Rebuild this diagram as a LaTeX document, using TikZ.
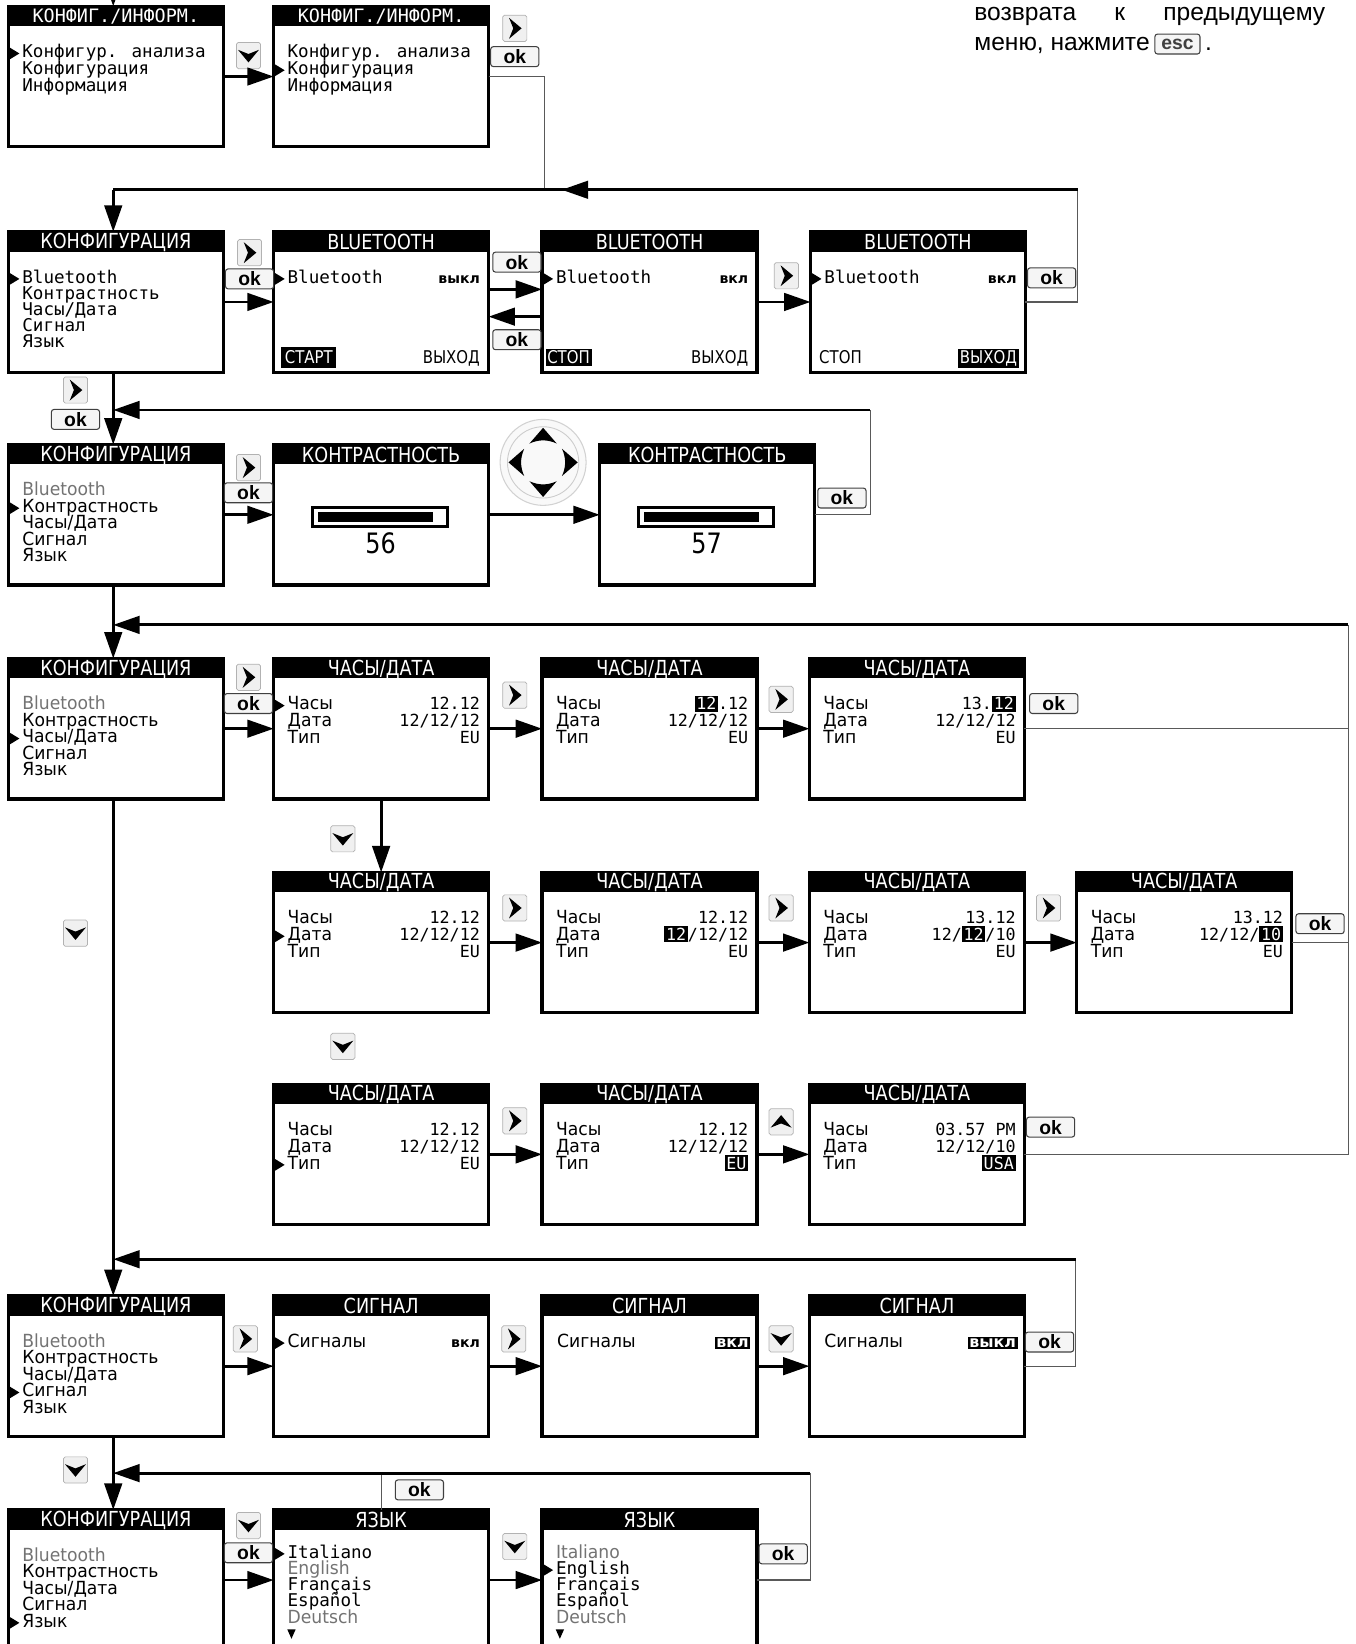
\documentclass[tikz,border=0pt]{standalone}
\usepackage{fontspec}
\setmainfont{DejaVu Sans}
\newfontfamily\monof{DejaVu Sans Mono}
\newfontfamily\condf[FakeStretch=0.85]{DejaVu Sans}
\newfontfamily\lblf[FakeStretch=0.95]{DejaVu Sans}
\newfontfamily\notef{Liberation Sans}
\usepackage{tikz}
\usetikzlibrary{positioning,calc,arrows.meta,decorations.markings}

\newcommand{\pxl}{0.020974cm}
\newcommand{\ttlfont}{\condf\fontsize{11.8}{12}\selectfont}
\newcommand{\lblfont}{\lblf\fontsize{10.3}{12}\selectfont}
\newcommand{\monofont}{\monof\fontsize{10}{12}\selectfont}
\newcommand{\valfont}{\monof\fontsize{9.5}{12}\selectfont}
\newcommand{\tinyfont}{\bfseries\fontsize{8}{10}\selectfont}
\newcommand{\btmfont}{\condf\fontsize{10}{11}\selectfont}

% white on black value
\newcommand{\hl}[1]{{\fboxsep=1pt\colorbox{black}{\color{white}#1}}}
\newcommand{\hlw}[1]{{\fboxsep=2pt\colorbox{black}{\color{white}#1}}}

% screen: name, x, y (top left), title
\newcommand{\screen}[4]{%
  \node[scr] (#1) at (#2,#3) {};
  \fill (#1.north west) rectangle ($(#1.north east)+(0,19)$);
  \node[ttl] (#1-t) at ($(#1.north)+(0,10)$) {#4};
}
% selection marker at baseline
\newcommand{\mk}[1]{\fill (1.5,{#1-9.5}) -- (10.5,{#1-4}) -- (1.5,{#1+1.5}) -- cycle;}
% menu of the configuration screen
\newcommand{\cfgmenu}[1]{%
  \foreach \t [count=\i from 0] in {{\color{black!55}Bluetooth},Контрастность,Часы/Дата,Сигнал,Язык}
    \node[lbl] at (13,{49+15.7*\i}) {\t};
  \mk{49+15.7*#1}
}
% clock/date screen
\newcommand{\clock}[4]{%
  \node[lbl] at (13,49) {Часы}; \node[val] at (197,49) {#2};
  \node[lbl] at (13,65) {Дата}; \node[val] at (197,65) {#3};
  \node[lbl] at (13,81) {Тип};  \node[val] at (197,81) {#4};
  \ifnum#1>0 \mk{49+16*(#1-1)}\fi
}
% contrast bar
\newcommand{\contrast}[1]{%
  \draw[line width=1.5pt] (37,60) rectangle (166,78);
  \fill (42,64) rectangle (152,74);
  \node[inner sep=0pt, font=\condf\fontsize{16}{16}\selectfont] at (102,94) {#1};
}
% keys
\newcommand{\keyR}[3]{\node[keybox] (#1) at (#2,#3) {};
  \fill[shift={(#1.center)}] (-5.5,-10) -- (6.5,0) -- (-5.5,10) -- (-1.5,0) -- cycle;}
\newcommand{\keyD}[3]{\node[keybox] (#1) at (#2,#3) {};
  \fill[shift={(#1.center)}] (-10,-5.5) -- (0,6.5) -- (10,-5.5) -- (0,-1.5) -- cycle;}
\newcommand{\keyU}[3]{\node[keybox] (#1) at (#2,#3) {};
  \fill[shift={(#1.center)}] (-10,5.5) -- (0,-6.5) -- (10,5.5) -- (0,1.5) -- cycle;}

\begin{document}
\begin{tikzpicture}[
    x=0.020974cm, y=-0.020974cm,
    scr/.style={draw, line width=1.8pt, anchor=north west, inner sep=0pt, outer sep=0pt,
        minimum width=205*\pxl, minimum height=134*\pxl},
    ttl/.style={text=white, inner sep=0pt, font=\ttlfont},
    lbl/.style={anchor=base west, inner sep=0pt},
    val/.style={anchor=base east, inner sep=0pt, font=\valfont},
    arr/.style={line width=1.6pt, -{Triangle[length=15pt,width=10pt]}},
    ret/.style={line width=0.7pt, draw=black!65},
    midarr/.style={postaction={decorate}, decoration={markings,
        mark=at position #1 with {\arrow{Triangle[length=15pt,width=10pt]}}}},
    keybox/.style={draw=gray!60, line width=0.4pt, fill=gray!12, rounded corners=1pt,
        minimum width=23*\pxl, minimum height=25*\pxl, inner sep=0pt},
    okbtn/.style={draw=black!75, line width=0.6pt, fill=gray!8, rounded corners=1.5pt,
        minimum width=46*\pxl, minimum height=19*\pxl, inner sep=0pt,
        font=\notef\bfseries\fontsize{11}{11}\selectfont},
    escbtn/.style={okbtn, minimum width=43*\pxl, text=black!75},
    note/.style={inner sep=0pt, font=\notef\fontsize{14}{16}\selectfont}
]
\useasboundingbox (0,0) rectangle (1293,1568);
\clip (0,0) rectangle (1293,1568);

% note
\node[note, anchor=base west] (note1) at (929,20) {\makebox[199.8pt][l]{возврата\hfill к\hfill предыдущему}};
\node[note, anchor=base west] (note2) at (929,48) {меню, нажмите};
\node[escbtn] (esc) at (1123,42) {esc};
\node[note, anchor=base west] (note3) at (1149,48) {.};

% return points
\coordinate (top) at (108,-5);
\coordinate (a2c) at (519,181);
\coordinate (r1) at (1028,181);  \coordinate (j1) at (108,181);
\coordinate (r2) at (830,391);   \coordinate (j2) at (108,391);
\coordinate (r3) at (1286,596);  \coordinate (j3) at (108,596);
\coordinate (r4) at (1026,1201); \coordinate (j4) at (108,1201);
\coordinate (r5) at (773,1405);  \coordinate (j5) at (108,1405);

% row A
\screen{A1}{8}{6}{\monof\fontsize{10.5}{12}\selectfont КОНФИГ./ИНФОРМ.}
\begin{scope}[shift={(A1.north west)}, font=\monofont]
  \foreach \t [count=\i from 0] in {Конфигур. анализа,Конфигурация,Информация}
    \node[lbl] at (13,{49+16*\i}) {\t};
  \mk{49}
\end{scope}
\screen{A2}{261}{6}{\monof\fontsize{10.5}{12}\selectfont КОНФИГ./ИНФОРМ.}
\begin{scope}[shift={(A2.north west)}, font=\monofont]
  \foreach \t [count=\i from 0] in {Конфигур. анализа,Конфигурация,Информация}
    \node[lbl] at (13,{49+16*\i}) {\t};
  \mk{65}
\end{scope}
\keyD{kA1}{237}{53}
\keyR{kA2}{491}{27}
\node[okbtn] (okA) at (491,54) {ok};

% row B: bluetooth
\screen{B1}{8}{221}{КОНФИГУРАЦИЯ}
\begin{scope}[shift={(B1.north west)}, font=\monofont]
  \foreach \t [count=\i from 0] in {Bluetooth,Контрастность,Часы/Дата,Сигнал,Язык}
    \node[lbl] at (13,{49+15.3*\i}) {\t};
  \mk{49}
\end{scope}
\screen{B2}{261}{221}{BLUETOOTH}
\begin{scope}[shift={(B2.north west)}]
  \mk{49}
  \node[lbl, font=\monofont] at (13,49) {Bluetooth};
  \node[val, font=\tinyfont] at (197,49) {выкл};
  \node[lbl, font=\btmfont] at (7,126) {\hlw{СТАРТ}};
  \node[val, font=\btmfont] at (197,126) {ВЫХОД};
\end{scope}
\screen{B3}{517}{221}{BLUETOOTH}
\begin{scope}[shift={(B3.north west)}]
  \mk{49}
  \node[lbl, font=\monofont] at (13,49) {Bluetooth};
  \node[val, font=\tinyfont] at (197,49) {вкл};
  \node[lbl, font=\btmfont] at (3,126) {\hl{СТОП}};
  \node[val, font=\btmfont] at (197,126) {ВЫХОД};
\end{scope}
\screen{B4}{773}{221}{BLUETOOTH}
\begin{scope}[shift={(B4.north west)}]
  \mk{49}
  \node[lbl, font=\monofont] at (13,49) {Bluetooth};
  \node[val, font=\tinyfont] at (197,49) {вкл};
  \node[lbl, font=\btmfont] at (8,126) {СТОП};
  \node[val, font=\btmfont] at (199,126) {\hl{ВЫХОД}};
\end{scope}
\keyR{kB1}{238}{241}
\node[okbtn] (okB1) at (238,266) {ok};
\node[okbtn] (okB2) at (493,250) {ok};
\node[okbtn] (okB3) at (493,324) {ok};
\keyR{kB2}{750}{263}
\node[okbtn] (okB4) at (1003,265) {ok};
\keyR{kB3}{72}{372}
\node[okbtn] (okB5) at (72,400) {ok};

% row C: contrast
\screen{C1}{8}{424}{КОНФИГУРАЦИЯ}
\begin{scope}[shift={(C1.north west)}, font=\lblfont]
  \cfgmenu{1}
\end{scope}
\screen{C2}{261}{424}{КОНТРАСТНОСТЬ}
\begin{scope}[shift={(C2.north west)}]
  \contrast{56}
\end{scope}
\screen{C3}{572}{424}{КОНТРАСТНОСТЬ}
\begin{scope}[shift={(C3.north west)}]
  \contrast{57}
\end{scope}
\keyR{kC1}{237}{446}
\node[okbtn] (okC1) at (237,470) {ok};
\node[circle, draw=gray!35, line width=0.6pt, fill=gray!5, minimum size=82*\pxl] (pad) at (518,441) {};
\begin{scope}[shift={(pad.center)}]
  \draw[gray!40, line width=0.5pt] (0,0) circle[radius=34];
  \foreach \a in {0,90,180,270}
    \fill[rotate=\a] (0,-33) -- (13,-18) .. controls (4,-22) and (-4,-22) .. (-13,-18) -- cycle;
\end{scope}
\node[okbtn] (okC2) at (803,475) {ok};

% row D: clock
\screen{D1}{8}{628}{КОНФИГУРАЦИЯ}
\begin{scope}[shift={(D1.north west)}, font=\lblfont]
  \cfgmenu{2}
\end{scope}
\screen{D2}{261}{628}{ЧАСЫ/ДАТА}
\begin{scope}[shift={(D2.north west)}, font=\lblfont]
  \clock{1}{12.12}{12/12/12}{EU}
\end{scope}
\screen{D3}{517}{628}{ЧАСЫ/ДАТА}
\begin{scope}[shift={(D3.north west)}, font=\lblfont]
  \clock{0}{\hl{12}.12}{12/12/12}{EU}
\end{scope}
\screen{D4}{772}{628}{ЧАСЫ/ДАТА}
\begin{scope}[shift={(D4.north west)}, font=\lblfont]
  \clock{0}{13.\hl{12}}{12/12/12}{EU}
\end{scope}
\keyR{kD1}{237}{646}
\node[okbtn] (okD1) at (237,671) {ok};
\keyR{kD2}{491}{663}
\keyR{kD3}{745}{667}
\node[okbtn] (okD2) at (1005,671) {ok};
\keyD{kD4}{327}{800}

% row E: date
\screen{E1}{261}{832}{ЧАСЫ/ДАТА}
\begin{scope}[shift={(E1.north west)}, font=\lblfont]
  \clock{2}{12.12}{12/12/12}{EU}
\end{scope}
\screen{E2}{517}{832}{ЧАСЫ/ДАТА}
\begin{scope}[shift={(E2.north west)}, font=\lblfont]
  \clock{0}{12.12}{\hl{12}/12/12}{EU}
\end{scope}
\screen{E3}{772}{832}{ЧАСЫ/ДАТА}
\begin{scope}[shift={(E3.north west)}, font=\lblfont]
  \clock{0}{13.12}{12/\hl{12}/10}{EU}
\end{scope}
\screen{E4}{1027}{832}{ЧАСЫ/ДАТА}
\begin{scope}[shift={(E4.north west)}, font=\lblfont]
  \clock{0}{13.12}{12/12/\hl{10}}{EU}
\end{scope}
\keyR{kE1}{491}{866}
\keyR{kE2}{745}{866}
\keyR{kE3}{1000}{866}
\node[okbtn] (okE1) at (1259,881) {ok};
\keyD{kE4}{72}{890}
\keyD{kE5}{327}{998}

% row F: type
\screen{F1}{261}{1034}{ЧАСЫ/ДАТА}
\begin{scope}[shift={(F1.north west)}, font=\lblfont]
  \clock{3}{12.12}{12/12/12}{EU}
\end{scope}
\screen{F2}{517}{1034}{ЧАСЫ/ДАТА}
\begin{scope}[shift={(F2.north west)}, font=\lblfont]
  \clock{0}{12.12}{12/12/12}{\hl{EU}}
\end{scope}
\screen{F3}{772}{1034}{ЧАСЫ/ДАТА}
\begin{scope}[shift={(F3.north west)}, font=\lblfont]
  \clock{0}{03.57 PM}{12/12/10}{\hl{USA}}
\end{scope}
\keyR{kF1}{491}{1069}
\keyU{kF2}{745}{1070}
\node[okbtn] (okF1) at (1002,1075) {ok};

% row G: signal
\screen{G1}{8}{1236}{КОНФИГУРАЦИЯ}
\begin{scope}[shift={(G1.north west)}, font=\lblfont]
  \cfgmenu{3}
\end{scope}
\screen{G2}{261}{1236}{СИГНАЛ}
\begin{scope}[shift={(G2.north west)}, font=\lblfont]
  \mk{49}
  \node[lbl] at (13,49) {Сигналы};
  \node[val, font=\tinyfont] at (197,49) {вкл};
\end{scope}
\screen{G3}{517}{1236}{СИГНАЛ}
\begin{scope}[shift={(G3.north west)}, font=\lblfont]
  \node[lbl] at (14,49) {Сигналы};
  \node[val, font=\tinyfont\fontsize{9}{10}\selectfont] at (199,49) {\hl{вкл}};
\end{scope}
\screen{G4}{772}{1236}{СИГНАЛ}
\begin{scope}[shift={(G4.north west)}, font=\lblfont]
  \node[lbl] at (14,49) {Сигналы};
  \node[val, font=\tinyfont\fontsize{9}{10}\selectfont] at (199,49) {\hl{выкл}};
\end{scope}
\keyR{kG1}{234}{1277}
\keyR{kG2}{490}{1277}
\keyD{kG3}{745}{1277}
\node[okbtn] (okG1) at (1001,1280) {ok};
\keyD{kG4}{72}{1402}
\node[okbtn] (okG2) at (400,1421) {ok};

% row H: language
\screen{H1}{8}{1440}{КОНФИГУРАЦИЯ}
\begin{scope}[shift={(H1.north west)}, font=\lblfont]
  \cfgmenu{4}
\end{scope}
\screen{H2}{261}{1440}{ЯЗЫК}
\begin{scope}[shift={(H2.north west)}, font=\monofont]
  \mk{46}
  \node[lbl] at (13,46) {Italiano};
  \node[lbl, font=\lblfont, text=black!55] at (13,61.5) {English};
  \node[lbl] at (13,77) {Français};
  \node[lbl] at (13,92.5) {Español};
  \node[lbl, font=\lblfont, text=black!55] at (13,108) {Deutsch};
  \fill (13,114) -- (21,114) -- (17,123) -- cycle;
\end{scope}
\screen{H3}{517}{1440}{ЯЗЫК}
\begin{scope}[shift={(H3.north west)}, font=\monofont]
  \node[lbl, font=\lblfont, text=black!55] at (13,46) {Italiano};
  \mk{61.5}
  \node[lbl] at (13,61.5) {English};
  \node[lbl] at (13,77) {Français};
  \node[lbl] at (13,92.5) {Español};
  \node[lbl, font=\lblfont, text=black!55] at (13,108) {Deutsch};
  \fill (13,114) -- (21,114) -- (17,123) -- cycle;
\end{scope}
\keyD{kH1}{237}{1455}
\node[okbtn] (okH1) at (237,1481) {ok};
\keyD{kH2}{491}{1475}
\node[okbtn] (okH2) at (747,1482) {ok};

% forward arrows
\draw[arr] (top) -- (top |- A1.north);
\draw[arr] (A1.east) -- (A2.west);
\draw[arr] (B1.east) -- (B2.west);
\draw[arr] ($(B2.east)+(0,-12)$) -- ($(B3.west)+(0,-12)$);
\draw[arr] ($(B3.west)+(0,14)$) -- ($(B2.east)+(0,14)$);
\draw[arr] (B3.east) -- (B4.west);
\draw[arr] (C1.east) -- (C2.west);
\draw[arr] (C2.east) -- (C3.west);
\draw[arr] (D1.east) -- (D2.west);
\draw[arr] (D2.east) -- (D3.west);
\draw[arr] (D3.east) -- (D4.west);
\draw[arr] (D2.south) -- (E1.north);
\draw[arr] (E1.east) -- (E2.west);
\draw[arr] (E2.east) -- (E3.west);
\draw[arr] (E3.east) -- (E4.west);
\draw[arr] (F1.east) -- (F2.west);
\draw[arr] (F2.east) -- (F3.west);
\draw[arr] (G1.east) -- (G2.west);
\draw[arr] (G2.east) -- (G3.west);
\draw[arr] (G3.east) -- (G4.west);
\draw[arr] (H1.east) -- (H2.west);
\draw[arr] (H2.east) -- (H3.west);

% down the left side
\draw[arr] (j1) -- (j1 |- B1.north);
\draw[arr] (j1 |- B1.south) -- (j1 |- C1.north);
\draw[arr] (j1 |- C1.south) -- (j1 |- D1.north);
\draw[arr] (j1 |- D1.south) -- (j1 |- G1.north);
\draw[arr] (j1 |- G1.south) -- (j1 |- H1.north);

% returns
\draw[ret] (A2.east) -| (a2c);
\draw[ret] (B4.east) -| (r1);
\draw[line width=1.6pt, midarr=0.535] (r1) -- (j1);
\draw[ret] (C3.east) -| (r2);
\draw[arr] (r2) -- (j2);
\draw[ret] (D4.east) -| (r3);
\draw[ret] (E4.east) -| (r3);
\draw[ret] (F3.east) -| (r3);
\draw[arr] (r3) -- (j3);
\draw[ret] (G4.east) -| (r4);
\draw[arr] (r4) -- (j4);
\draw[ret] (H3.east) -| (r5);
\draw[ret] (H2.north) -- (H2.north |- r5);
\draw[arr] (r5) -- (j5);

\end{tikzpicture}
\end{document}
